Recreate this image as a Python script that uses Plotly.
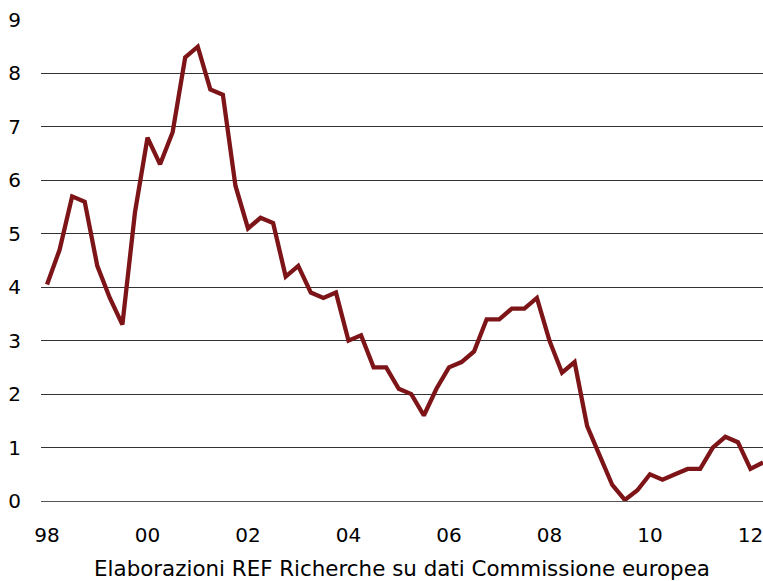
import plotly.graph_objects as go

# Quarterly series, 1998Q1 .. 2012Q2
start_year = 1998
values = [4.05, 4.7, 5.7, 5.6, 4.4, 3.8, 3.3, 5.4,
          6.8, 6.3, 6.9, 8.3, 8.5, 7.7, 7.6, 5.9,
          5.1, 5.3, 5.2, 4.2, 4.4, 3.9, 3.8, 3.9,
          3.0, 3.1, 2.5, 2.5, 2.1, 2.0, 1.6, 2.1,
          2.5, 2.6, 2.8, 3.4, 3.4, 3.6, 3.6, 3.8,
          3.0, 2.4, 2.6, 1.4, 0.85, 0.3, 0.02, 0.2,
          0.5, 0.4, 0.5, 0.6, 0.6, 1.0, 1.2, 1.1,
          0.6, 0.72]
x = [start_year + i / 4 for i in range(len(values))]

tick_years = [1998, 2000, 2002, 2004, 2006, 2008, 2010, 2012]
tick_labels = ["98", "00", "02", "04", "06", "08", "10", "12"]
y_ticks = list(range(0, 10))

caption = "Elaborazioni REF Richerche su dati Commissione europea"

fig = go.Figure()
fig.add_trace(go.Scatter(
    x=x, y=values, mode="lines",
    line=dict(color="#7d1417", width=4.3),
    cliponaxis=False,
    hoverinfo="skip", showlegend=False,
))

tick_font = dict(family="DejaVu Sans", size=20, color="#000000")
cap_font = dict(family="DejaVu Sans", size=21.4, color="#000000")

fig.update_layout(
    width=763, height=581,
    margin=dict(l=41, r=0, t=20, b=80, autoexpand=False),
    paper_bgcolor="white", plot_bgcolor="white",
    font=tick_font,
    xaxis=dict(
        range=[start_year - 0.12, start_year + (len(values) - 1) / 4],
        tickvals=tick_years, ticktext=tick_labels,
        showgrid=False, zeroline=False,
        showline=True, linecolor="#555555", linewidth=1,
        ticks="outside", ticklen=16, tickcolor="rgba(0,0,0,0)",
        tickfont=tick_font, automargin=False,
        ticklabeloverflow="allow",
        title=dict(text=caption, font=cap_font, standoff=15),
    ),
    yaxis=dict(
        range=[0, 9],
        tickvals=y_ticks,
        showgrid=True, gridcolor="#333333", gridwidth=1,
        zeroline=False, showline=False,
        ticks="outside", ticklen=15, tickcolor="rgba(0,0,0,0)",
        tickfont=tick_font, automargin=False,
        ticklabeloverflow="allow",
    ),
)

fig.write_html(
    "out.html",
    config={"displayModeBar": False},
    post_script="document.body.style.margin='0';document.body.style.overflow='hidden';",
)
